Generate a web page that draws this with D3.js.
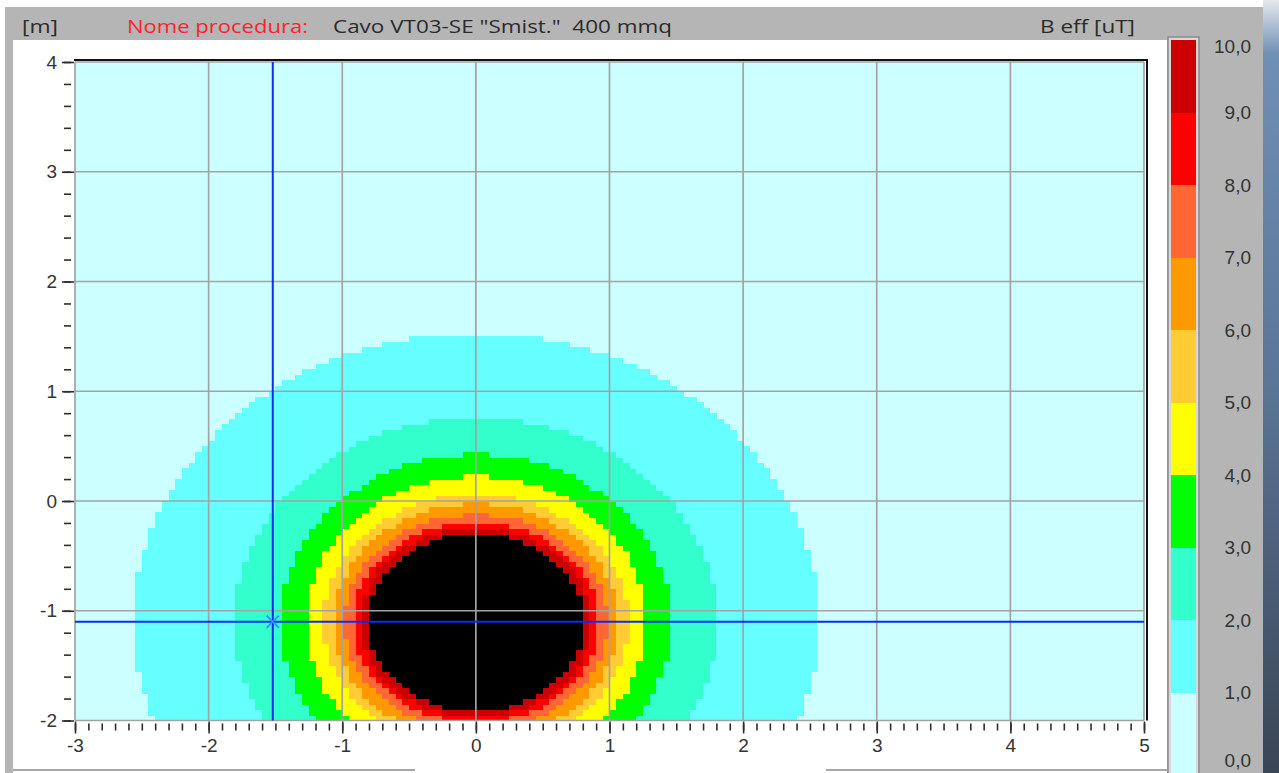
<!DOCTYPE html>
<html><head><meta charset="utf-8">
<script src="https://cdn.jsdelivr.net/npm/d3@7"></script>
<style>html,body{margin:0;padding:0;background:#fff;overflow:hidden}text{white-space:pre}</style>
</head><body><svg id="c" width="1279" height="773"></svg>
<script>
// ---------- data ----------
const levels = [1, 2, 3, 4, 5, 6, 7, 8, 9, 10];                 // iso-lines of B eff [uT]
const levelRx = [2.56, 1.81, 1.46, 1.275, 1.14, 1.06, 0.99, 0.92, 0.87, 0.815]; // half-width of each iso-line [m]
const levelRy = [2.625, 1.86, 1.53, 1.33, 1.165, 1.08, 0.98, 0.91, 0.86, 0.81]; // half-height of each iso-line [m]
const sourceX = 0.0, sourceY = -1.1;                               // cable axis position [m]
const bandColors = ["#ccffff", "#66ffff", "#33ffcc", "#00ff00", "#ffff00", "#ffcc33",
                    "#ff9900", "#ff6633", "#ff0000", "#cc0000", "#000000"];
const xDomain = [-3, 5], yDomain = [-2, 4];
const xTicks = [-3, -2, -1, 0, 1, 2, 3, 4, 5];
const yTicks = [-2, -1, 0, 1, 2, 3, 4];
const legendValues = [0, 1, 2, 3, 4, 5, 6, 7, 8, 9, 10];
const legendLabels = ["0,0", "1,0", "2,0", "3,0", "4,0", "5,0", "6,0", "7,0", "8,0", "9,0", "10,0"];
const cursorX = -1.52, cursorY = -1.1;
const cellSize = 0.05;
const unitY = "[m]", titleLabel = "Nome procedura:", titleText = 'Cavo VT03-SE "Smist."  400 mmq', unitB = "B eff [uT]";

// ---------- layout ----------
const W = 1279, H = 773;
const svg = d3.select("#c");
const FONT = "'Liberation Sans', Arial, sans-serif";
const xs = d3.scaleLinear(xDomain, [75, 1144]);
const ys = d3.scaleLinear(yDomain, [720.5, 62]);
const color = d3.scaleThreshold().domain(levels).range(bandColors);

// window chrome
svg.append("rect").attr("x", 0).attr("y", 0).attr("width", W).attr("height", H).attr("fill", "#ffffff");
svg.append("rect").attr("x", 5).attr("y", 7).attr("width", 1258).attr("height", H - 7).attr("fill", "#b5b5b5");
const grad = svg.append("defs").append("linearGradient").attr("id", "ph").attr("x1", 0).attr("y1", 0).attr("x2", 0).attr("y2", 1);
grad.append("stop").attr("offset", "0").attr("stop-color", "#e6e9ee");
grad.append("stop").attr("offset", "0.07").attr("stop-color", "#6f8fb4");
grad.append("stop").attr("offset", "0.5").attr("stop-color", "#5a7596");
grad.append("stop").attr("offset", "1").attr("stop-color", "#3a4555");
svg.append("rect").attr("x", 1263).attr("y", 0).attr("width", 16).attr("height", H).attr("fill", "url(#ph)");
svg.append("rect").attr("x", 13).attr("y", 40).attr("width", 1154).attr("height", H - 40).attr("fill", "#ffffff");
svg.append("line").attr("x1", 13).attr("x2", 415).attr("y1", 770).attr("y2", 770).attr("stroke", "#a8a8a8").attr("stroke-width", 2);
svg.append("line").attr("x1", 826).attr("x2", 1167).attr("y1", 770).attr("y2", 770).attr("stroke", "#a8a8a8").attr("stroke-width", 2);

// header texts
const hdr = svg.append("g").attr("font-family", "'Segoe UI','Open Sans','Noto Sans',sans-serif").attr("font-size", 18);
hdr.append("text").attr("x", 22).attr("y", 33).attr("fill", "#2b2b2b").attr("textLength", 36).attr("lengthAdjust", "spacingAndGlyphs").text(unitY);
hdr.append("text").attr("x", 127).attr("y", 33).attr("fill", "#ff1f2f").attr("textLength", 181).attr("lengthAdjust", "spacingAndGlyphs").text(titleLabel);
hdr.append("text").attr("x", 333).attr("y", 33).attr("fill", "#2b2b2b").attr("textLength", 339).attr("lengthAdjust", "spacingAndGlyphs").text(titleText);
hdr.append("text").attr("x", 1040).attr("y", 33).attr("fill", "#2b2b2b").attr("textLength", 95).attr("lengthAdjust", "spacingAndGlyphs").text(unitB);

// ---------- field cells ----------
svg.append("defs").append("clipPath").attr("id", "pc").append("rect")
  .attr("x", xs(xDomain[0])).attr("y", ys(yDomain[1])).attr("width", xs(xDomain[1]) - xs(xDomain[0])).attr("height", ys(yDomain[0]) - ys(yDomain[1]));
const plot = svg.append("g").attr("clip-path", "url(#pc)");
plot.append("rect").attr("x", xs(xDomain[0])).attr("y", ys(yDomain[1]))
  .attr("width", xs(xDomain[1]) - xs(xDomain[0])).attr("height", ys(yDomain[0]) - ys(yDomain[1])).attr("fill", color(0));

function fieldAt(px, py) {
  let v = 0;
  levels.forEach((l, i) => {
    const dx = (px - sourceX) / levelRx[i], dy = (py - sourceY) / levelRy[i];
    if (dx * dx + dy * dy <= 1) v = l;
  });
  return v;
}
const nx = Math.round((xDomain[1] - xDomain[0]) / cellSize), ny = Math.round((yDomain[1] - yDomain[0]) / cellSize);
const cells = [];
for (let i = 0; i < nx; i++) for (let j = 0; j < ny; j++) {
  const x0 = xDomain[0] + i * cellSize, y0 = yDomain[0] + j * cellSize;
  const v = fieldAt(x0 + cellSize / 2, y0 + cellSize / 2);
  if (v > 0) cells.push({ x0, y0, v });
}
plot.append("g").attr("shape-rendering", "crispEdges").selectAll("rect").data(cells).join("rect")
  .attr("x", d => xs(d.x0)).attr("y", d => ys(d.y0 + cellSize))
  .attr("width", d => xs(d.x0 + cellSize) - xs(d.x0) + 0.6)
  .attr("height", d => ys(d.y0) - ys(d.y0 + cellSize) + 0.6)
  .attr("fill", d => color(d.v));

// grid
const grid = svg.append("g").attr("stroke", "#a3a3a3").attr("stroke-width", 1.7);
grid.selectAll(".gx").data(xTicks).join("line").attr("x1", d => xs(d)).attr("x2", d => xs(d)).attr("y1", ys(yDomain[1])).attr("y2", ys(yDomain[0]));
grid.selectAll(".gy").data(yTicks).join("line").attr("y1", d => ys(d)).attr("y2", d => ys(d)).attr("x1", xs(xDomain[0])).attr("x2", xs(xDomain[1]));
// frame top/right
svg.append("line").attr("x1", xs(xDomain[0]) - 1).attr("x2", xs(xDomain[1]) + 4).attr("y1", ys(yDomain[1]) - 2).attr("y2", ys(yDomain[1]) - 2).attr("stroke", "#111").attr("stroke-width", 2.2);
svg.append("line").attr("x1", xs(xDomain[1]) + 3).attr("x2", xs(xDomain[1]) + 3).attr("y1", ys(yDomain[1]) - 3).attr("y2", ys(yDomain[0])).attr("stroke", "#111").attr("stroke-width", 2);

// cursor
const cur = svg.append("g").attr("stroke", "#0a2cf5").attr("stroke-width", 2);
cur.append("line").attr("x1", xs(cursorX)).attr("x2", xs(cursorX)).attr("y1", ys(yDomain[1])).attr("y2", ys(yDomain[0]));
cur.append("line").attr("y1", ys(cursorY)).attr("y2", ys(cursorY)).attr("x1", xs(xDomain[0])).attr("x2", xs(xDomain[1]));
svg.append("path").attr("d", d3.symbol(d3.symbolX, 100)()).attr("transform", `translate(${xs(cursorX)},${ys(cursorY)})`)
  .attr("stroke", "#3d8bff").attr("stroke-width", 1.8).attr("fill", "none");

// ---------- axes ----------
function styleAxis(g) {
  g.select(".domain").remove();
  g.selectAll(".tick line").attr("stroke", "#2e2e2e").attr("stroke-width", 1.6);
  g.selectAll("text").attr("font-family", FONT).attr("font-size", 19).attr("fill", "#333");
}
const xMinor = d3.range(Math.round((xDomain[1] - xDomain[0]) * 10) + 1).map(i => xDomain[0] + i / 10);
const yMinor = d3.range(Math.round((yDomain[1] - yDomain[0]) * 5) + 1).map(i => yDomain[0] + i / 5);
const axY0 = ys(yDomain[0]) + 1;
svg.append("g").attr("transform", `translate(0,${axY0 + 2})`)
  .call(d3.axisBottom(xs).tickValues(xMinor).tickSize(7).tickFormat("")).call(styleAxis);
svg.append("g").attr("transform", `translate(0,${axY0})`)
  .call(d3.axisBottom(xs).tickValues(xTicks).tickSize(12).tickPadding(5).tickFormat(d => String(d))).call(styleAxis);
const axX0 = xs(xDomain[0]) - 1;
svg.append("g").attr("transform", `translate(${axX0 - 3},0)`)
  .call(d3.axisLeft(ys).tickValues(yMinor).tickSize(7).tickFormat("")).call(styleAxis);
svg.append("g").attr("transform", `translate(${axX0},0)`)
  .call(d3.axisLeft(ys).tickValues(yTicks).tickSize(12).tickPadding(5).tickFormat(d => String(d))).call(styleAxis);

// ---------- colour legend ----------
const ly = d3.scaleLinear([0, 10], [765, 40]);
const leg = svg.append("g");
leg.append("rect").attr("x", 1168).attr("y", ly(10) - 3).attr("width", 31).attr("height", H).attr("fill", "#d8d8d8").attr("stroke", "#8a8a8a").attr("stroke-width", 1.5);
leg.selectAll(".band").data(legendValues.slice(0, -1)).join("rect")
  .attr("x", 1171).attr("width", 25)
  .attr("y", d => ly(d + 1))
  .attr("height", d => (d === 0 ? H : ly(d)) - ly(d + 1))
  .attr("fill", d => color(d))
  .attr("shape-rendering", "crispEdges");
leg.selectAll(".lab").data(legendValues).join("text")
  .attr("x", 1251).attr("y", d => Math.min(Math.max(ly(d), ly(10) + 6), H - 13)).attr("dy", "0.36em")
  .attr("text-anchor", "end").attr("font-family", FONT).attr("font-size", 19).attr("fill", "#333")
  .text((d, i) => legendLabels[i]);
</script></body></html>
